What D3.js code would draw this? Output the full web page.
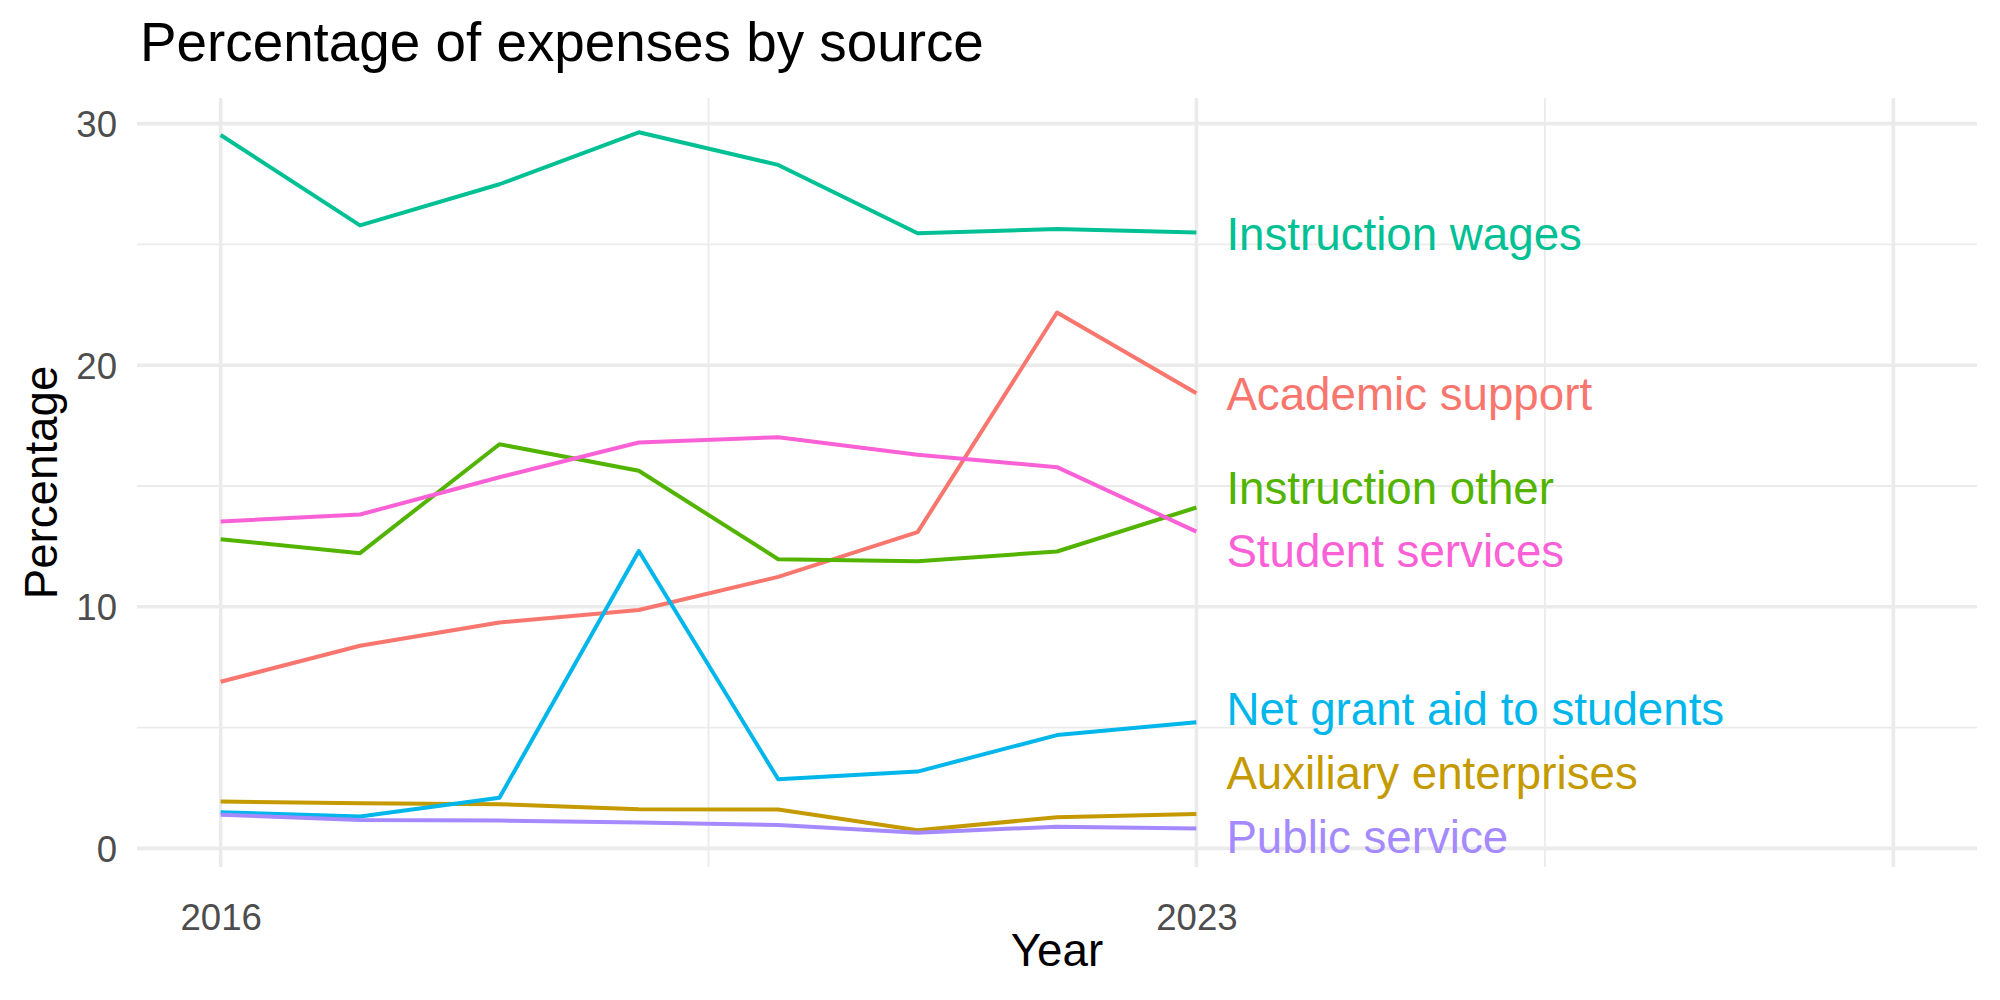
<!DOCTYPE html>
<html>
<head>
<meta charset="utf-8">
<script src="https://cdn.jsdelivr.net/npm/d3@7"></script>
<style>
  body { margin: 0; background: #fff; }
  svg { font-family: "Liberation Sans", Arial, sans-serif; }
</style>
</head>
<body>
<div id="chart"></div>
<script>
// chart data
var years = [2016, 2017, 2018, 2019, 2020, 2021, 2022, 2023];
var sources = ["Academic support", "Auxiliary enterprises", "Instruction other",
               "Instruction wages", "Net grant aid to students", "Public service", "Student services"];
var academicSupport  = [6.90, 8.39, 9.35, 9.87, 11.24, 13.09, 22.18, 18.84];
var auxiliary        = [1.94, 1.87, 1.83, 1.62, 1.61, 0.75, 1.29, 1.42];
var instructionOther = [12.80, 12.22, 16.73, 15.63, 11.97, 11.89, 12.29, 14.11];
var instructionWages = [29.53, 25.79, 27.49, 29.64, 28.29, 25.46, 25.64, 25.49];
var netGrantAid      = [1.50, 1.32, 2.10, 12.31, 2.86, 3.18, 4.69, 5.22];
var publicService    = [1.39, 1.18, 1.15, 1.07, 0.97, 0.65, 0.90, 0.82];
var studentServices  = [13.53, 13.82, 15.36, 16.80, 17.02, 16.29, 15.78, 13.11];
// where the repelled end labels sit (in percent units)
var labelValues = [18.81, 3.12, 14.90, 25.41, 5.76, 0.48, 12.31];
var colors = ["#F8766D", "#C49A00", "#53B400", "#00C094", "#00B6EB", "#A58AFF", "#FB61D7"];
var xBreaks = [2016, 2023, 2028];
var xLabels = ["2016", "2023", ""];
var xMinor = [2019.5, 2025.5];
var yBreaks = [0, 10, 20, 30];
var yMinor = [5, 15, 25];

var seriesValues = [academicSupport, auxiliary, instructionOther, instructionWages,
                    netGrantAid, publicService, studentServices];

var svgWidth = 2000;
var svgHeight = 1000;

// panel area
var panel = { left: 137, right: 1977, top: 98, bottom: 867 };

var svg = d3.select("#chart")
  .append("svg")
  .attr("width", svgWidth)
  .attr("height", svgHeight);

var xScale = d3.scaleLinear()
  .domain([2015.4, 2028.6])
  .range([panel.left, panel.right]);

var yScale = d3.scaleLinear()
  .domain([-0.77, 31.06])
  .range([panel.bottom, panel.top]);

// grid
var grid = svg.append("g");
grid.selectAll(".yminor").data(yMinor).enter().append("line")
  .attr("x1", panel.left).attr("x2", panel.right)
  .attr("y1", d => yScale(d)).attr("y2", d => yScale(d))
  .attr("stroke", "#EBEBEB").attr("stroke-width", 1.8);
grid.selectAll(".xminor").data(xMinor).enter().append("line")
  .attr("y1", panel.top).attr("y2", panel.bottom)
  .attr("x1", d => xScale(d)).attr("x2", d => xScale(d))
  .attr("stroke", "#EBEBEB").attr("stroke-width", 1.8);
grid.selectAll(".ymajor").data(yBreaks).enter().append("line")
  .attr("x1", panel.left).attr("x2", panel.right)
  .attr("y1", d => yScale(d)).attr("y2", d => yScale(d))
  .attr("stroke", "#EBEBEB").attr("stroke-width", 3.6);
grid.selectAll(".xmajor").data(xBreaks).enter().append("line")
  .attr("y1", panel.top).attr("y2", panel.bottom)
  .attr("x1", d => xScale(d)).attr("x2", d => xScale(d))
  .attr("stroke", "#EBEBEB").attr("stroke-width", 3.6);

// axes (no lines, just labels)
var bottomAxis = d3.axisBottom(xScale)
  .tickValues(xBreaks)
  .tickFormat((d, i) => xLabels[i])
  .tickSize(0)
  .tickPadding(37);
var xAxis = svg.append("g")
  .attr("transform", `translate(0, ${panel.bottom})`)
  .call(bottomAxis);

var leftAxis = d3.axisLeft(yScale)
  .tickValues(yBreaks)
  .tickSize(0)
  .tickPadding(20);
var yAxis = svg.append("g")
  .attr("transform", `translate(${panel.left}, 0)`)
  .call(leftAxis);

[xAxis, yAxis].forEach(a => {
  a.select(".domain").remove();
  a.selectAll("text")
    .attr("fill", "#4D4D4D")
    .style("font-size", "36.6px")
    .style("font-family", "Liberation Sans, Arial, sans-serif");
});
yAxis.selectAll("text").attr("dy", "0.35em");

// lines
var line = d3.line()
  .x((d, i) => xScale(years[i]))
  .y(d => yScale(d));

svg.append("g").selectAll("path")
  .data(seriesValues)
  .enter()
  .append("path")
  .attr("d", d => line(d))
  .attr("fill", "none")
  .attr("stroke", (d, i) => colors[i])
  .attr("stroke-width", 4)
  .attr("stroke-linejoin", "round");

// end labels
svg.append("g").selectAll("text")
  .data(sources)
  .enter()
  .append("text")
  .attr("x", xScale(2023) + 30)
  .attr("y", (d, i) => yScale(labelValues[i]))
  .attr("dy", "0.35em")
  .attr("fill", (d, i) => colors[i])
  .style("font-size", "45.7px")
  .text(d => d);

// titles
svg.append("text")
  .attr("x", 140)
  .attr("y", 61)
  .style("font-size", "54.8px")
  .attr("fill", "#000")
  .text("Percentage of expenses by source");

svg.append("text")
  .attr("x", (panel.left + panel.right) / 2)
  .attr("y", 966)
  .attr("text-anchor", "middle")
  .style("font-size", "45.7px")
  .attr("fill", "#000")
  .text("Year");

svg.append("text")
  .attr("transform", `translate(57, ${(panel.top + panel.bottom) / 2}) rotate(-90)`)
  .attr("text-anchor", "middle")
  .style("font-size", "45.7px")
  .attr("fill", "#000")
  .text("Percentage");
</script>
</body>
</html>
